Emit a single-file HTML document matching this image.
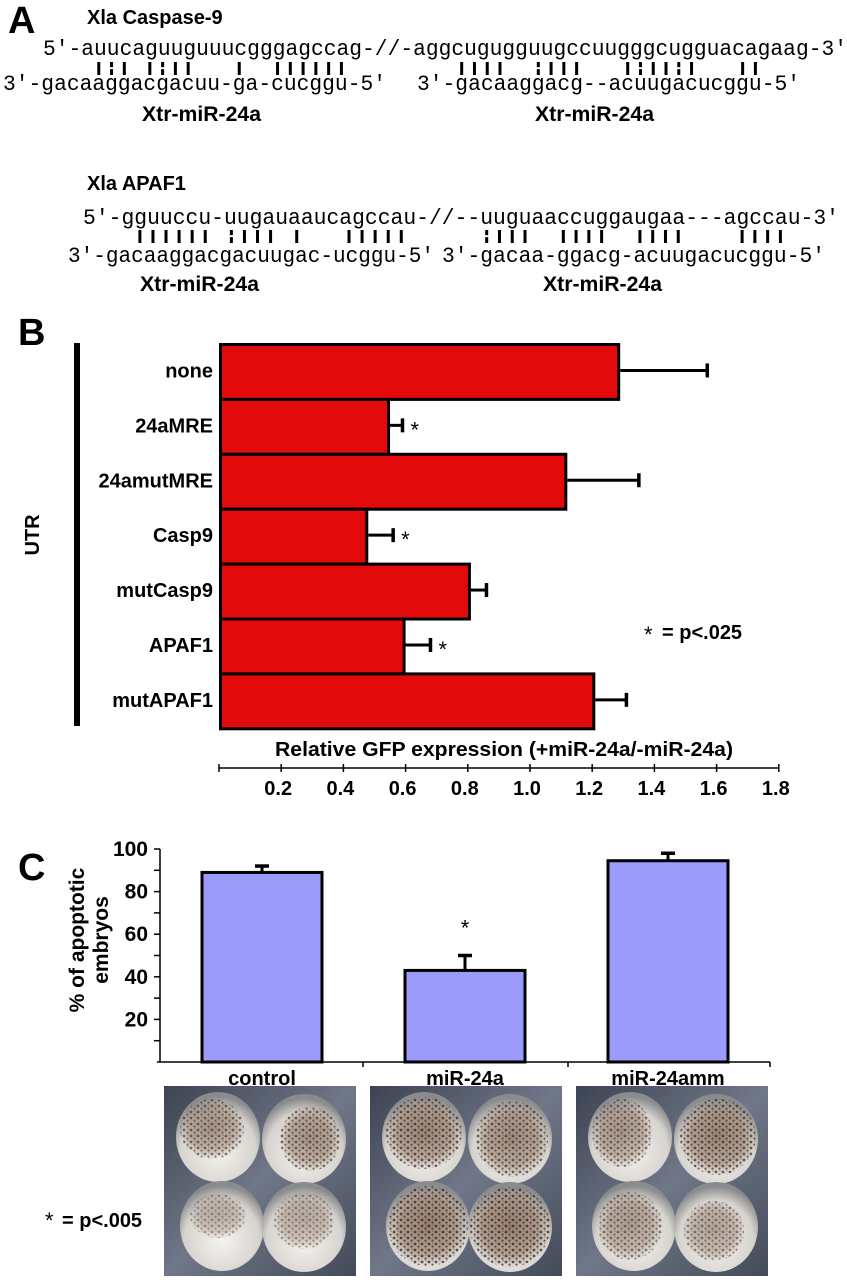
<!DOCTYPE html>
<html><head><meta charset="utf-8"><style>
html,body{margin:0;padding:0;background:#fff}
svg{display:block}
text{font-family:"Liberation Sans",Arial,sans-serif;font-weight:bold;fill:#000}
.mono{font-family:"Liberation Mono","DejaVu Sans Mono",monospace;font-weight:normal;font-size:22px}
</style></head><body>
<svg id="fig" width="847" height="1280" viewBox="0 0 847 1280" xmlns="http://www.w3.org/2000/svg">
<defs>
<radialGradient id="egg" cx="0.5" cy="0.65" r="0.6"><stop offset="0" stop-color="#f6f4f0"/><stop offset="0.75" stop-color="#d6d3ce"/><stop offset="1" stop-color="#8a8b8c"/></radialGradient>
<radialGradient id="pig" cx="0.5" cy="0.5" r="0.5"><stop offset="0" stop-color="#6b4c3a" stop-opacity="0.75"/><stop offset="0.7" stop-color="#7a5a48" stop-opacity="0.55"/><stop offset="1" stop-color="#8a6a58" stop-opacity="0"/></radialGradient>
<pattern id="dots" width="7" height="6" patternUnits="userSpaceOnUse"><circle cx="2" cy="2" r="1.4" fill="#2e1c12"/><circle cx="5.5" cy="4.6" r="1.1" fill="#3d2719"/><circle cx="6" cy="1" r="0.6" fill="#55392a"/></pattern>
<linearGradient id="bg" x1="0" y1="0" x2="1" y2="1"><stop offset="0" stop-color="#3c4352"/><stop offset="0.5" stop-color="#6f7788"/><stop offset="1" stop-color="#434a59"/></linearGradient>
</defs>

<!-- Panel A -->
<g>
<text x="8" y="33" font-size="38">A</text>
<text x="87" y="24" font-size="20">Xla Caspase-9</text>
<text class="mono" x="43" y="55" textLength="804" lengthAdjust="spacingAndGlyphs">5′-auucaguuguuucgggagccag-//-aggcugugguugccuugggcugguacagaag-3′</text>
<text class="mono" x="3" y="90" textLength="383" lengthAdjust="spacingAndGlyphs">3′-gacaaggacgacuu-ga-cucggu-5′</text>
<text class="mono" x="417" y="90" textLength="383" lengthAdjust="spacingAndGlyphs">3′-gacaaggacg--acuugacucggu-5′</text>
<g id="pairs1"></g>
<text x="142" y="121" font-size="21" textLength="119" lengthAdjust="spacingAndGlyphs">Xtr-miR-24a</text>
<text x="535" y="121" font-size="21" textLength="119" lengthAdjust="spacingAndGlyphs">Xtr-miR-24a</text>

<text x="87" y="190" font-size="20">Xla APAF1</text>
<text class="mono" x="83" y="224" textLength="756" lengthAdjust="spacingAndGlyphs">5′-gguuccu-uugauaaucagccau-//--uuguaaccuggaugaa---agccau-3′</text>
<text class="mono" x="68" y="262" textLength="366" lengthAdjust="spacingAndGlyphs">3′-gacaaggacgacuugac-ucggu-5′</text>
<text class="mono" x="442" y="262" textLength="383" lengthAdjust="spacingAndGlyphs">3′-gacaa-ggacg-acuugacucggu-5′</text>
<g id="pairs2"></g>
<text x="140" y="291" font-size="21" textLength="119" lengthAdjust="spacingAndGlyphs">Xtr-miR-24a</text>
<text x="543" y="291" font-size="21" textLength="119" lengthAdjust="spacingAndGlyphs">Xtr-miR-24a</text>
</g>

<!-- Panel B -->
<g id="panelB">
<text x="18" y="345" font-size="38">B</text>
<rect x="74" y="343" width="6" height="383" fill="#000"/>
<text x="0" y="0" font-size="20" text-anchor="middle" transform="translate(39,535) rotate(-90)">UTR</text>
<text x="504" y="756" font-size="20" text-anchor="middle" textLength="458" lengthAdjust="spacingAndGlyphs">Relative GFP expression (+miR-24a/-miR-24a)</text>
<text x="644" y="642" font-size="22" style="font-weight:normal">*</text>
<text x="662" y="639" font-size="20">= p&lt;.025</text>
</g>

<!-- Panel C -->
<g id="panelC">
<text x="18" y="880" font-size="38">C</text>
<text font-size="21" text-anchor="middle" transform="translate(84,940) rotate(-90)">% of apoptotic</text>
<text font-size="21" text-anchor="middle" transform="translate(108,940) rotate(-90)">embryos</text>
<text x="45" y="1228" font-size="22" style="font-weight:normal">*</text>
<text x="62" y="1227" font-size="20">= p&lt;.005</text>
<g id="photos"></g>
</g>
</svg>
<script>
var NS='http://www.w3.org/2000/svg';
function mk(tag,attrs,parent){var e=document.createElementNS(NS,tag);for(var k in attrs)e.setAttribute(k,attrs[k]);parent.appendChild(e);return e;}

// Pairing columns (A)
var pairCols1=[7,8,9,11,12,13,14,18,21,22,23,24,25,26];
var pairBroken1=[8,12];
var pairCols1b=[3,4,5,6,9,10,11,12,16,17,18,19,20,21,25,26];
var pairBroken1b=[9,17,20];
var pairCols2=[5,6,7,8,9,10,12,13,14,15,17,21,22,23,24,25];
var pairBroken2=[12];
var pairCols2b=[3,4,5,6,9,10,11,12,15,16,17,18,23,24,25,26];
var pairBroken2b=[3];
function pairs(g,x0,cw,y0,h,cols,broken){
  cols.forEach(function(c){
    var x=x0+cw*(c+0.5)-1.5;
    if(broken.indexOf(c)>=0){
      var r1=mk('rect',{x:x,y:y0,width:3,height:h*0.4,fill:'#000'},g);
      
      
      var r2=mk('rect',{x:x,y:y0+h*0.55,width:3,height:h*0.45,fill:'#000'},g);
      
      
    } else {
      var r=mk('rect',{x:x,y:y0,width:3,height:h,fill:'#000'},g);
      
      
    }
  });
}
var p1=document.getElementById('pairs1'),p2=document.getElementById('pairs2');
pairs(p1,3,12.77,62,13,pairCols1,pairBroken1);
pairs(p1,417,12.77,62,13,pairCols1b,pairBroken1b);
pairs(p2,68,13.07,230,13,pairCols2,pairBroken2);
pairs(p2,442,12.77,230,13,pairCols2b,pairBroken2b);

// Panel B data
var categoriesB=['none','24aMRE','24amutMRE','Casp9','mutCasp9','APAF1','mutAPAF1'];
var valuesB=[1.29,0.55,1.12,0.48,0.81,0.60,1.21];
var errorsB=[0.28,0.04,0.23,0.08,0.05,0.08,0.10];
var sigB=[false,true,false,true,false,true,false];
var ticksB=['0.2','0.4','0.6','0.8','1.0','1.2','1.4','1.6','1.8'];
var tickValsB=[0.2,0.4,0.6,0.8,1.0,1.2,1.4,1.6,1.8];

var gB=document.getElementById('panelB');
function xB(v){return 219+v*311;}
var bTop=343,bStep=54.9;
function yB(i){return bTop+i*bStep;}
categoriesB.forEach(function(c,i){
  var y=yB(i);
  var bar=mk('rect',{x:xB(0)+1.5,y:y+1.5,width:xB(valuesB[i])-xB(0)-3,height:bStep,fill:'#e20a0a',stroke:'#000','stroke-width':3},gB);
  
  
  var x1=xB(valuesB[i]),x2=xB(valuesB[i]+errorsB[i]),ym=y+bStep/2;
  var el=mk('line',{x1:x1,y1:ym,x2:x2,y2:ym,stroke:'#000','stroke-width':3},gB);
  
  
  var ec=mk('line',{x1:x2,y1:ym-7,x2:x2,y2:ym+7,stroke:'#000','stroke-width':3.5},gB);
  
  
  var t=mk('text',{x:213,y:ym+7,'font-size':20,'text-anchor':'end'},gB);
  t.textContent=c;
  
  
  if(sigB[i]){
    var s=mk('text',{x:x2+8,y:ym+12,'font-size':22,style:'font-weight:normal'},gB);
    s.textContent='*';
    
    
  }
});
var axY=768;
var ax=mk('line',{x1:xB(0),y1:axY,x2:xB(1.8),y2:axY,stroke:'#000','stroke-width':1.5},gB);


var t0=mk('line',{x1:xB(0),y1:axY-4,x2:xB(0),y2:axY+4,stroke:'#000','stroke-width':1.5},gB);


tickValsB.forEach(function(v,i){
  var tk=mk('line',{x1:xB(v),y1:axY-4,x2:xB(v),y2:axY+4,stroke:'#000','stroke-width':1.5},gB);
  
  
  var tl=mk('text',{x:xB(v)-3,y:795,'font-size':20,'text-anchor':'middle'},gB);
  tl.textContent=ticksB[i];
  
  
});

// Panel C data
var categoriesC=['control','miR-24a','miR-24amm'];
var valuesC=[89,43,94.5];
var errorsC=[3,7,3.5];
var sigC=[false,true,false];
var ticksC=['20','40','60','80','100'];
var tickValsC=[20,40,60,80,100];
var gC=document.getElementById('panelC');
function yC(v){return 1062-v*2.13;}
var centersC=[262,465,668],bwC=120;
categoriesC.forEach(function(c,i){
  var cx=centersC[i];
  var bar=mk('rect',{x:cx-bwC/2,y:yC(valuesC[i]),width:bwC,height:yC(0)-yC(valuesC[i]),fill:'#9b9bfc',stroke:'#000','stroke-width':3},gC);
  
  
  var y1=yC(valuesC[i]),y2=yC(valuesC[i]+errorsC[i]);
  var el=mk('line',{x1:cx,y1:y1,x2:cx,y2:y2,stroke:'#000','stroke-width':3},gC);
  
  
  var ec=mk('line',{x1:cx-7,y1:y2,x2:cx+7,y2:y2,stroke:'#000','stroke-width':3.5},gC);
  
  
  var t=mk('text',{x:cx,y:1085,'font-size':20,'text-anchor':'middle'},gC);
  t.textContent=c;
  
  
  if(sigC[i]){
    var s=mk('text',{x:cx,y:yC(valuesC[i]+errorsC[i])-20,'font-size':22,'text-anchor':'middle',style:'font-weight:normal'},gC);
    s.textContent='*';
    
    
  }
});
var yax=mk('line',{x1:160,y1:yC(100),x2:160,y2:yC(0),stroke:'#000','stroke-width':1.5},gC);


var xax=mk('line',{x1:157,y1:yC(0),x2:770,y2:yC(0),stroke:'#000','stroke-width':1.5},gC);


[363,568,770].forEach(function(x){
  var tk=mk('line',{x1:x,y1:yC(0),x2:x,y2:yC(0)+5,stroke:'#000','stroke-width':1.5},gC);
  
  
});
for(var v=10;v<=100;v+=10){
  var tk=mk('line',{x1:154,y1:yC(v),x2:160,y2:yC(v),stroke:'#000','stroke-width':1.5},gC);
  
  
}
tickValsC.forEach(function(v,i){
  var tl=mk('text',{x:148,y:yC(v)+7,'font-size':21,'text-anchor':'end'},gC);
  tl.textContent=ticksC[i];
  
  
});

// Photos
var ph=document.getElementById('photos');
var photoX=[164,370,576];
// pigment patch offsets per embryo (dx,dy,rx,ry,opacity) per photo
var patches=[
 [[-6,-8,32,30,0.7],[6,0,30,32,0.75],[-4,-10,28,22,0.45],[0,-6,30,28,0.5]],
 [[0,-4,38,36,0.85],[2,0,36,38,0.8],[0,0,40,40,0.9],[0,0,40,40,0.9]],
 [[-8,-4,30,34,0.7],[2,-2,38,38,0.85],[-4,0,32,34,0.65],[-2,4,30,30,0.6]]
];
photoX.forEach(function(px,k){
  var r=mk('rect',{x:px,y:1086,width:192,height:190,fill:'url(#bg)'},ph);
  
  
  [[px+54,1137],[px+140,1139],[px+58,1226],[px+140,1227]].forEach(function(c,j){
    var e=mk('ellipse',{cx:c[0],cy:c[1],rx:42,ry:45,fill:'url(#egg)'},ph);
    
    
    var p=patches[k][j];
    var t=mk('ellipse',{cx:c[0]+p[0],cy:c[1]+p[1],rx:p[2],ry:p[3],fill:'url(#pig)',opacity:p[4]},ph);
    
    
    var d=mk('ellipse',{cx:c[0]+p[0],cy:c[1]+p[1],rx:p[2],ry:p[3],fill:'url(#dots)',opacity:p[4]*0.8},ph);
    
    
  });
});
</script>
</body></html>
